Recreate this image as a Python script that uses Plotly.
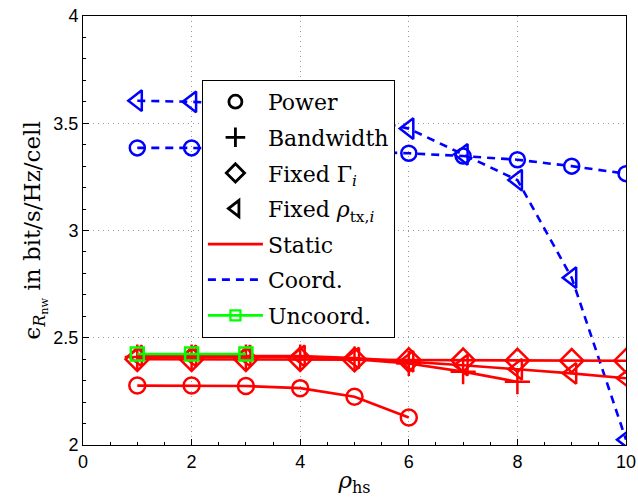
import plotly.graph_objects as go

# ---- data ----
x_all = [1, 2, 3, 4, 5, 6, 7, 8, 9, 10]

static_power_x = [1, 2, 3, 4, 5, 6]
static_power_y = [2.277, 2.277, 2.275, 2.265, 2.225, 2.128]

static_bw_x = [1, 2, 3, 4, 5, 6, 7, 8]
static_bw_y = [2.41, 2.41, 2.41, 2.41, 2.40, 2.38, 2.342, 2.295]

static_gamma_x = x_all
static_gamma_y = [2.40, 2.40, 2.40, 2.40, 2.398, 2.396, 2.395, 2.394, 2.393, 2.393]

static_rho_x = x_all
static_rho_y = [2.415, 2.415, 2.415, 2.415, 2.405, 2.39, 2.372, 2.353, 2.334, 2.311]

coord_power_x = x_all
coord_power_y = [3.385, 3.385, 3.38, 3.375, 3.368, 3.36, 3.347, 3.33, 3.30, 3.265]

coord_rho_x = x_all
coord_rho_y = [3.605, 3.60, 3.59, 3.57, 3.53, 3.475, 3.355, 3.235, 2.78, 2.025]

uncoord_x = [1, 2, 3]
uncoord_y = [2.424, 2.424, 2.424]

x_ticks = [0, 2, 4, 6, 8, 10]
y_ticks = [2, 2.5, 3, 3.5, 4]

RED = "#ff0000"
BLUE = "#0000ff"
GREEN = "#00ff00"
SERIF = "DejaVu Serif, Liberation Serif, serif"

fig = go.Figure()

def data_trace(x, y, color, symbol, dash="solid", size=14):
    fig.add_trace(go.Scatter(
        x=x, y=y, mode="lines+markers", showlegend=False,
        line=dict(color=color, width=2.6, dash=dash),
        marker=dict(symbol=symbol, size=size, color=color,
                    line=dict(color=color, width=2.5)),
    ))

# blue (coordinated)
data_trace(coord_power_x, coord_power_y, BLUE, "circle-open", dash="8px,6px", size=15)
data_trace(coord_rho_x, coord_rho_y, BLUE, "triangle-left-open", dash="8px,6px", size=18)
# red (static)
data_trace(static_power_x, static_power_y, RED, "circle-open", size=16)
data_trace(static_gamma_x, static_gamma_y, RED, "diamond-open", size=18)
data_trace(static_rho_x, static_rho_y, RED, "triangle-left-open", size=18)
data_trace(static_bw_x, static_bw_y, RED, "cross-thin-open", size=18)
# green (uncoordinated)
data_trace(uncoord_x, uncoord_y, GREEN, "square-open", size=13)

# ---- legend entries ----
def leg_marker(name, symbol, group, size=12):
    fig.add_trace(go.Scatter(
        x=[None], y=[None], mode="markers", name=name, legendgroup=group,
        marker=dict(symbol=symbol, size=size, color="black",
                    line=dict(color="black", width=2.8)),
    ))

leg_marker("Power", "circle-open", "g1", size=13)
leg_marker("Bandwidth", "cross-thin-open", "g2", size=14)
leg_marker("Fixed Γ<sub><i>i</i></sub>", "diamond-open", "g3", size=14)
leg_marker("Fixed <i>ρ</i><sub>tx,<i>i</i></sub>", "triangle-left-open", "g4", size=14)
fig.add_trace(go.Scatter(x=[None], y=[None], mode="lines", name="Static", legendgroup="g5",
                         line=dict(color=RED, width=2.8)))
fig.add_trace(go.Scatter(x=[None], y=[None], mode="lines", name="Coord.", legendgroup="g6",
                         line=dict(color=BLUE, width=2.8, dash="8px,6px")))
fig.add_trace(go.Scatter(x=[None], y=[None], mode="lines+markers", name="Uncoord.", legendgroup="g7",
                         line=dict(color=GREEN, width=2.8),
                         marker=dict(symbol="square-open", size=10, color=GREEN,
                                     line=dict(color=GREEN, width=2.2))))

axis_common = dict(
    showline=True, linecolor="black", linewidth=1, mirror=True,
    ticks="inside", ticklen=6, tickcolor="black",
    showgrid=True, gridcolor="#999999", griddash="1px,4px", gridwidth=1,
    zeroline=False, automargin=False,
    tickfont=dict(family="Liberation Sans, Arial, sans-serif", size=18, color="black"),
)

fig.update_layout(
    width=638, height=497,
    margin=dict(l=83, r=12, t=16, b=52),
    plot_bgcolor="white", paper_bgcolor="white",
    xaxis=dict(range=[0, 10], tickvals=x_ticks, ticktext=[str(v) for v in x_ticks],
               title=dict(text="<i>ρ</i><sub>hs</sub>", standoff=4,
                          font=dict(family=SERIF, size=23, color="black")),
               minor=dict(ticks="inside", ticklen=3, dtick=0.5, tickcolor="black", showgrid=False),
               **axis_common),
    yaxis=dict(range=[2, 4], tickvals=y_ticks, ticktext=["2", "2.5", "3", "3.5", "4"],
               title=dict(text="ϵ<sub><i>R</i><sub>nw</sub></sub> in bit/s/Hz/cell", standoff=6,
                          font=dict(family=SERIF, size=23, color="black")),
               minor=dict(ticks="inside", ticklen=3, dtick=0.1, tickcolor="black", showgrid=False),
               **axis_common),
    legend=dict(
        x=0.219, y=0.851, xanchor="left", yanchor="top",
        bgcolor="white", bordercolor="black", borderwidth=1,
        font=dict(family=SERIF, size=22, color="black"),
        tracegroupgap=4, itemwidth=55,
    ),
)

fig.write_html("out.html")
